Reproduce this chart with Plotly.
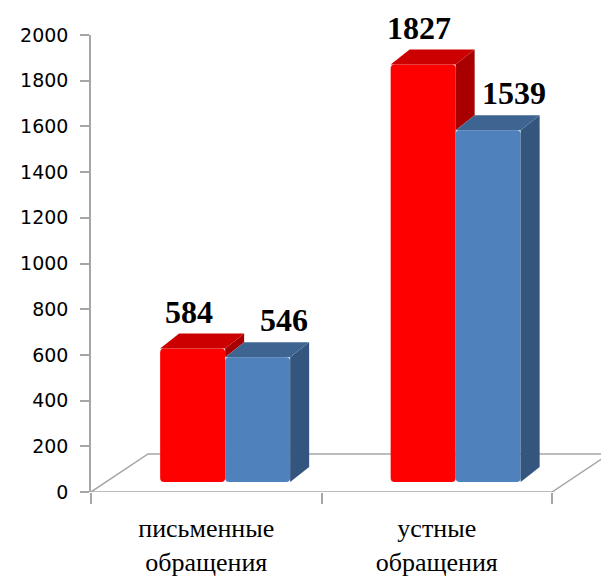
import plotly.graph_objects as go

# ---------------- data ----------------
categories = ["письменные<br>обращения", "устные<br>обращения"]
cat_pos = [0, 1]
series_names = ["red", "blue"]
red_values = [584, 1827]
blue_values = [546, 1539]
y_ticks = [0, 200, 400, 600, 800, 1000, 1200, 1400, 1600, 1800, 2000]

# ---------------- geometry / style ----------------
W, H = 601, 581
ML, MR, MT, MB = 91, 0, 35, 89
PX_PER_X = 230.5                      # pixels per category unit
X0 = -0.5
X1 = X0 + (W - ML - MR) / PX_PER_X
Y_RANGE = [0, 2000]
PX_PER_Y = (H - MT - MB) / (Y_RANGE[1] - Y_RANGE[0])

def px_x(p):
    return p / PX_PER_X

def px_y(p):
    return p / PX_PER_Y

FLOOR_DX, FLOOR_DY = px_x(57), px_y(38)
BAR_DX, BAR_DY = px_x(19), px_y(15)
BASE = px_y(10)                        # bars stand at mid depth of the floor
BAR_W = px_x(65)
OFFSETS = {"red": -0.20, "blue": -0.20 + px_x(65)}
COLORS = {
    "red": dict(front="#ff0000", top="#cc0000", side="#a80000"),
    "blue": dict(front="#4f81bd", top="#3e6592", side="#34557e"),
}
LABEL_SHIFT = {"red": -4, "blue": 26}
GRAY = "#a6a6a6"

values = {"red": red_values, "blue": blue_values}

fig = go.Figure()

# front faces as bars
for name in series_names:
    fig.add_trace(go.Bar(
        x=cat_pos, y=values[name], base=[BASE] * len(cat_pos),
        width=[BAR_W] * len(cat_pos), offset=[OFFSETS[name]] * len(cat_pos),
        marker=dict(color=COLORS[name]["front"], line=dict(width=0)),
        hoverinfo="skip", showlegend=False,
    ))

# sides and tops of 3D bars
for si, name in enumerate(series_names):
    for ci, c in enumerate(cat_pos):
        v = values[name][ci]
        xl = c + OFFSETS[name]
        xr = xl + BAR_W
        top = BASE + v
        bottom = BASE
        if si + 1 < len(series_names):
            nxt = values[series_names[si + 1]][ci]
            bottom = max(BASE, BASE + nxt)
        # side
        fig.add_trace(go.Scatter(
            x=[xr, xr + BAR_DX, xr + BAR_DX, xr, xr],
            y=[bottom, bottom + BAR_DY, top + BAR_DY, top, bottom],
            fill="toself", fillcolor=COLORS[name]["side"], mode="lines",
            line=dict(width=0, color=COLORS[name]["side"]),
            hoverinfo="skip", showlegend=False,
        ))
        # top
        fig.add_trace(go.Scatter(
            x=[xl, xr, xr + BAR_DX, xl + BAR_DX, xl],
            y=[top, top, top + BAR_DY, top + BAR_DY, top],
            fill="toself", fillcolor=COLORS[name]["top"], mode="lines",
            line=dict(width=0, color=COLORS[name]["top"]),
            hoverinfo="skip", showlegend=False,
        ))
        # value label
        fig.add_annotation(
            x=c + OFFSETS[name] + BAR_W / 2, y=top, xref="x", yref="y",
            text=f"<b>{v}</b>", showarrow=False, yanchor="bottom",
            yshift=17, xshift=LABEL_SHIFT[name],
            font=dict(family="Liberation Serif", size=32, color="#000000"),
        )

# floor (below the bars)
floor_path = (
    f"M {X0},0 L {1.5},0 L {1.5 + FLOOR_DX},{FLOOR_DY} "
    f"L {X0 + FLOOR_DX},{FLOOR_DY} Z"
)
fig.add_shape(type="path", path=floor_path, xref="x", yref="y",
              line=dict(color=GRAY, width=1.5), fillcolor="white", layer="below")

fig.update_layout(
    width=W, height=H,
    margin=dict(l=ML, r=MR, t=MT, b=MB, pad=0),
    paper_bgcolor="white", plot_bgcolor="white",
    barmode="overlay", showlegend=False, barcornerradius=4,
    xaxis=dict(
        range=[X0, X1], tickvals=cat_pos, ticktext=categories,
        ticks="", showline=False, showgrid=False, zeroline=False,
        tickfont=dict(family="Liberation Serif", size=26, color="#000000"),
        ticklabelstandoff=18,
        minor=dict(tickmode="array", tickvals=[-0.5, 0.5, 1.5], ticks="outside",
                   ticklen=11, tickcolor=GRAY, tickwidth=1.5, showgrid=False),
    ),
    yaxis=dict(
        range=Y_RANGE, tickvals=y_ticks, ticks="outside", ticklen=9,
        tickcolor=GRAY, tickwidth=1.5, showline=True, linecolor=GRAY, linewidth=1.5,
        showgrid=False, zeroline=False, ticklabelstandoff=8,
        tickfont=dict(family="DejaVu Sans", size=19, color="#000000"),
    ),
)

fig.write_html(
    "out.html",
    config={"displayModeBar": False},
    post_script="document.body.style.margin='0';document.body.style.overflow='hidden';",
)
